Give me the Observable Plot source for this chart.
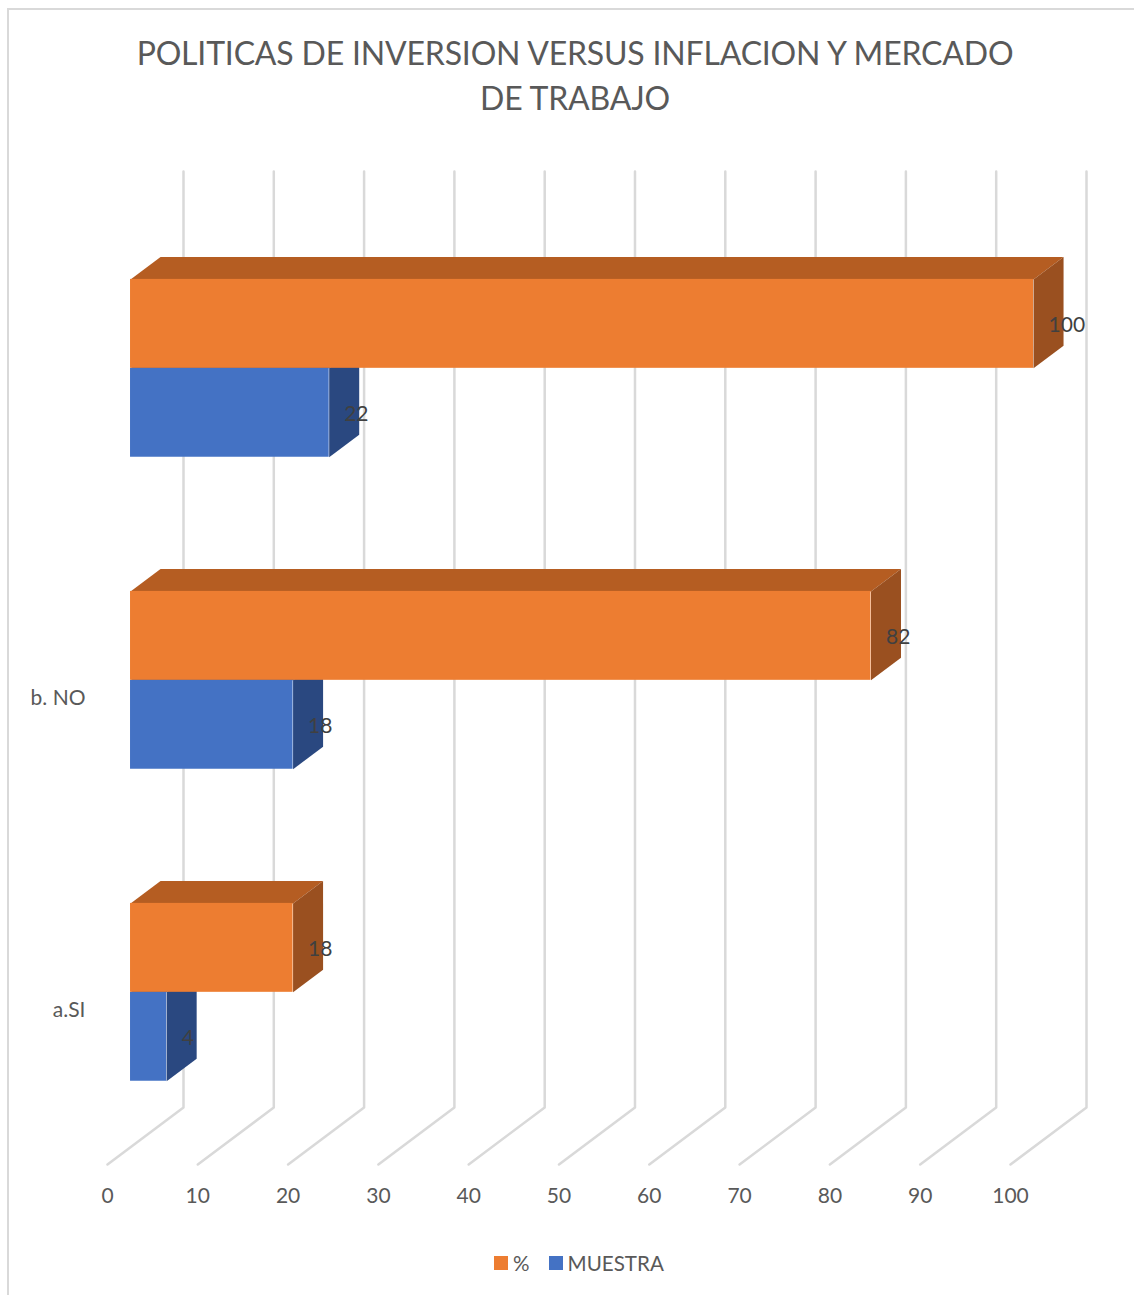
<!DOCTYPE html>
<html lang="es">
<head>
<meta charset="utf-8">
<script src="https://cdn.jsdelivr.net/npm/d3@7"></script>
<script src="https://cdn.jsdelivr.net/npm/@observablehq/plot@0.6"></script>
<style>
  html, body { margin: 0; padding: 0; background: #fff; }
  #page { position: relative; width: 1134px; height: 1295px; overflow: hidden; font-family: Lato, "Open Sans", sans-serif; color: #595959; }
  #frame { position: absolute; left: 7px; top: 8px; width: 1127px; height: 1287px; border-left: 2px solid #d9d9d9; border-top: 2px solid #d9d9d9; box-sizing: border-box; }
  #title { position: absolute; left: 8px; width: 1134px; top: 30px; margin: 0; text-align: center; font-weight: 400; font-size: 32px; letter-spacing: -0.18px; line-height: 45px; }
  #chart { position: absolute; left: 0; top: 140px; }
  #chart svg { display: block; }
  #legend { position: absolute; top: 1250px; left: 494px; display: flex; align-items: center; font-size: 20.6px; line-height: 26px; white-space: nowrap; }
  #legend i { display: inline-block; width: 14px; height: 14px; margin-right: 5px; }
  #legend span { margin-right: 19px; }
</style>
</head>
<body>
<div id="page">
  <div id="frame"></div>
  <h1 id="title">POLITICAS DE INVERSION VERSUS INFLACION Y MERCADO<br>DE TRABAJO</h1>
  <div id="chart"></div>
  <div id="legend"></div>
</div>
<script>
// Data
const categories = ["a.SI", "b. NO", ""];
const muestra = [4, 18, 22];
const porcentaje = [18, 82, 100];
const xTicks = [0, 10, 20, 30, 40, 50, 60, 70, 80, 90, 100];
const seriesNames = ["%", "MUESTRA"];

// Colours
const orange = { front: "#ED7D31", top: "#B55D22", side: "#9A5020" };
const blue = { front: "#4472C4", top: "#2F5597", side: "#2A4880" };
const gridColor = "#d9d9d9";

// Oblique projection of the depth axis, expressed in scale units
const depthX = 8.416, depthY = 0.1827;
const barNear = 0.303, barFar = 0.698, halfBar = 0.285, barShift = -0.0035;
const px = (v, d) => v + d * depthX;
const py = (p, d) => p + d * depthY;

const gridLines = xTicks.flatMap((v) => [
  { v, x: px(v, 0), y: -0.5 },
  { v, x: px(v, 1), y: py(-0.5, 1) },
  { v, x: px(v, 1), y: py(2.5, 1) }
]);

function rows(values, offset, colors) {
  return values.map((v, i) => ({ v, i, offset, colors }));
}
const yTop = (r) => r.i + barShift + (r.offset > 0 ? halfBar : 0);
const yBottom = (r) => r.i + barShift + (r.offset > 0 ? 0 : -halfBar);

function sideFaces(rs) {
  return rs.flatMap((r) => [
    [r.v, barNear, yBottom(r)], [r.v, barFar, yBottom(r)],
    [r.v, barFar, yTop(r)], [r.v, barNear, yTop(r)]
  ].map(([v, d, p]) => ({ id: r.i, x: px(v, d), y: py(p, d), fill: r.colors.side })));
}
function topFaces(rs) {
  return rs.flatMap((r) => [
    [0, barNear], [0, barFar], [r.v, barFar], [r.v, barNear]
  ].map(([v, d]) => ({ id: r.i, x: px(v, d), y: py(yTop(r), d), fill: r.colors.top })));
}
function frontFaces(rs) {
  return rs.map((r) => ({
    x1: px(0, barNear), x2: px(r.v, barNear),
    y1: py(yBottom(r), barNear), y2: py(yTop(r), barNear),
    fill: r.colors.front, v: r.v
  }));
}

const muestraRows = rows(muestra, -1, blue);
const porcentajeRows = rows(porcentaje, 1, orange);

function faces(rs) {
  return [
    Plot.line(topFaces(rs), { x: "x", y: "y", z: "id", fill: "fill", stroke: "none" }),
    Plot.line(sideFaces(rs), { x: "x", y: "y", z: "id", fill: "fill", stroke: "none" }),
    Plot.rect(frontFaces(rs), { x1: "x1", x2: "x2", y1: "y1", y2: "y2", fill: "fill" })
  ];
}
function labels(rs) {
  return Plot.text(frontFaces(rs), {
    x: "x2", y: (d) => (d.y1 + d.y2) / 2, text: (d) => String(d.v),
    dx: 15, dy: 1, textAnchor: "start", fill: "#404040", fontSize: 21
  });
}

const chart = Plot.plot({
  width: 1134,
  height: 1090,
  marginLeft: 85,
  marginRight: 0,
  marginTop: 0,
  marginBottom: 66,
  style: { fontFamily: "Lato, 'Open Sans', sans-serif", background: "transparent", overflow: "visible" },
  x: { domain: [0, 100], range: [107, 1010] },
  y: { domain: [-0.5, 2.5], range: [1024, 88] },
  color: { type: "identity" },
  marks: [
    Plot.line(gridLines, { x: "x", y: "y", z: "v", stroke: gridColor, strokeWidth: 2.5 }),
    ...faces(muestraRows),
    ...faces(porcentajeRows),
    labels(muestraRows),
    labels(porcentajeRows),
    Plot.axisX({ ticks: xTicks, tickSize: 0, tickPadding: 24, fontSize: 21, color: "#595959", anchor: "bottom", tickFormat: (d) => String(d), label: null }),
    Plot.axisY({ ticks: [0, 1], tickSize: 0, tickPadding: 0, dy: 2, fontSize: 21, color: "#595959", anchor: "left", tickFormat: (i) => categories[i], label: null })
  ]
});
document.getElementById("chart").appendChild(chart);

const legend = document.getElementById("legend");
[[seriesNames[0], orange.front], [seriesNames[1], blue.front]].forEach(([name, color]) => {
  const swatch = document.createElement("i");
  swatch.style.background = color;
  const label = document.createElement("span");
  label.textContent = name;
  legend.append(swatch, label);
});
</script>
</body>
</html>
